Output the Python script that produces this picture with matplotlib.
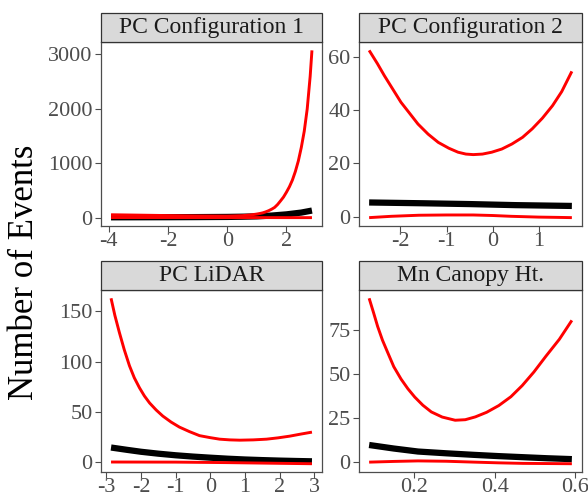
import matplotlib
matplotlib.use("Agg")
import matplotlib.pyplot as plt
from matplotlib.patches import Rectangle

plt.rcParams['font.family'] = ['Liberation Serif', 'DejaVu Serif']

titles = ["PC Configuration 1", "PC Configuration 2", "PC LiDAR", "Mn Canopy Ht."]

# Panel 1: PC Configuration 1
p1_x_up = [-3.92, -3.0, -2.0, -1.0, 0.0, 0.5, 0.8, 1.0, 1.1, 1.2, 1.3, 1.4, 1.5, 1.6, 1.7, 1.8, 1.9,
           2.0, 2.1, 2.2, 2.3, 2.4, 2.5, 2.6, 2.7, 2.8, 2.86]
p1_up = [55, 48, 40, 33, 30, 38, 52, 68, 78, 90, 108, 130, 157, 190, 243, 310, 380,
         470, 570, 692, 850, 1043, 1290, 1590, 2000, 2600, 3075]
p1_x_fit = [-3.92, -3.0, -2.0, -1.0, 0.0, 0.5, 1.0, 1.5, 2.0, 2.5, 2.86]
p1_fit = [8, 9, 10, 12, 15, 19, 25, 40, 62, 95, 132]
p1_x_lo = [-3.92, -2.0, 0.0, 1.0, 2.0, 2.86]
p1_lo = [4, 4, 3, 3, 2, 2]

# Panel 2: PC Configuration 2
p2_x_up = [-2.68, -2.5, -2.35, -2.17, -1.99, -1.8, -1.62, -1.4, -1.18, -0.95, -0.75, -0.58, -0.42,
           -0.22, -0.02, 0.2, 0.42, 0.65, 0.86, 1.08, 1.30, 1.5, 1.72]
p2_up = [62.5, 57.5, 53.0, 48.0, 43.0, 38.8, 34.8, 31.0, 27.9, 25.7, 24.2, 23.5, 23.3,
         23.5, 24.2, 25.4, 27.3, 29.8, 33.0, 37.0, 41.7, 47.0, 54.6]
p2_x_fit = [-2.68, -1.5, -0.5, 0.5, 1.72]
p2_fit = [5.3, 5.0, 4.7, 4.3, 4.0]
p2_x_lo = [-2.68, -2.2, -1.6, -1.0, -0.42, 0.0, 0.4, 1.0, 1.4, 1.72]
p2_lo = [-0.4, 0.1, 0.5, 0.6, 0.6, 0.4, 0.1, -0.2, -0.3, -0.4]

# Panel 3: PC LiDAR
p3_x_up = [-2.86, -2.75, -2.62, -2.48, -2.33, -2.19, -2.04, -1.9, -1.75, -1.56, -1.37, -1.13, -0.89,
           -0.6, -0.31, 0.0, 0.27, 0.56, 0.85, 1.24, 1.62, 1.95, 2.29, 2.6, 2.93]
p3_up = [163, 146, 129, 112, 96, 84, 74, 66, 59, 52, 46, 40, 35,
         30.5, 26.5, 24.5, 23.0, 22.3, 22.0, 22.3, 23.0, 24.3, 26.0, 28.0, 30.0]
p3_x_fit = [-2.86, -2.4, -2.0, -1.5, -1.0, -0.5, 0.0, 0.5, 1.0, 1.5, 2.0, 2.5, 2.93]
p3_fit = [14.7, 12.4, 10.5, 8.6, 7.0, 5.7, 4.6, 3.6, 2.8, 2.2, 1.7, 1.3, 1.0]
p3_x_lo = [-2.86, -1.0, 0.5, 2.0, 2.93]
p3_lo = [0.3, 0.2, -0.3, -1.0, -1.4]

# Panel 4: Mn Canopy Ht.
p4_x_up = [0.089, 0.10, 0.11, 0.122, 0.135, 0.15, 0.168, 0.185, 0.202, 0.222, 0.243, 0.27, 0.302,
           0.327, 0.352, 0.38, 0.41, 0.44, 0.468, 0.497, 0.527, 0.56, 0.591]
p4_up = [92.7, 84.5, 76.8, 69.0, 62.0, 54.0, 47.0, 41.5, 36.8, 32.2, 28.4, 25.5, 23.7,
         24.0, 25.6, 28.2, 32.0, 37.0, 43.3, 51.0, 60.0, 69.5, 80.2]
p4_x_fit = [0.089, 0.15, 0.21, 0.28, 0.35, 0.41, 0.47, 0.53, 0.591]
p4_fit = [9.7, 7.7, 6.0, 5.0, 4.1, 3.4, 2.8, 2.2, 1.7]
p4_x_lo = [0.089, 0.15, 0.21, 0.28, 0.35, 0.41, 0.47, 0.53, 0.591]
p4_lo = [0.0, 0.4, 0.7, 0.5, 0.0, -0.4, -0.7, -0.8, -0.9]

panels = [
    (p1_x_up, p1_up, p1_x_fit, p1_fit, p1_x_lo, p1_lo, [-4, -2, 0, 2], [0, 1000, 2000, 3000], ["-4", "-2", "0", "2"], ["0", "1000", "2000", "3000"]),
    (p2_x_up, p2_up, p2_x_fit, p2_fit, p2_x_lo, p2_lo, [-2, -1, 0, 1], [0, 20, 40, 60], ["-2", "-1", "0", "1"], ["0", "20", "40", "60"]),
    (p3_x_up, p3_up, p3_x_fit, p3_fit, p3_x_lo, p3_lo, [-3, -2, -1, 0, 1, 2, 3], [0, 50, 100, 150], ["-3", "-2", "-1", "0", "1", "2", "3"], ["0", "50", "100", "150"]),
    (p4_x_up, p4_up, p4_x_fit, p4_fit, p4_x_lo, p4_lo, [0.2, 0.4, 0.6], [0, 25, 50, 75], ["0.2", "0.4", "0.6"], ["0", "25", "50", "75"]),
]

W, H = 588, 498
fig = plt.figure(figsize=(W / 100, H / 100), dpi=100)

boxes = [(101, 322, 42, 226), (359, 582, 42, 226), (101, 322, 290, 472), (359, 582, 290, 472)]
strip_h = 29

for i, (box, pan) in enumerate(zip(boxes, panels)):
    l, r, t, b = box
    ax = fig.add_axes([l / W, (H - b) / H, (r - l) / W, (b - t) / H])
    xu, yu, xf, yf, xl, yl, xt, yt, xtl, ytl = pan
    ax.plot(xu, yu, color='#FF0000', lw=2.1, solid_capstyle='butt', solid_joinstyle='round', zorder=3)
    ax.plot(xf, yf, color='black', lw=4.5, solid_capstyle='butt', solid_joinstyle='round', zorder=2)
    ax.plot(xl, yl, color='#FF0000', lw=2.1, solid_capstyle='butt', solid_joinstyle='round', zorder=3)
    ax.margins(x=0.05, y=0.05)
    ax.set_xticks(xt)
    ax.set_xticklabels(xtl)
    ax.set_yticks(yt)
    ax.set_yticklabels(ytl)
    ax.tick_params(axis='both', colors='#4D4D4D', labelsize=16, length=4, width=0.8, pad=2)
    ax.tick_params(axis='x', pad=0.5)
    for sp in ax.spines.values():
        sp.set_color('#4D4D4D')
        sp.set_linewidth(0.9)
    sh = strip_h / (b - t)
    rect = Rectangle((0, 1), 1, sh, transform=ax.transAxes, facecolor='#D9D9D9',
                     edgecolor='#333333', lw=0.9, clip_on=False, zorder=5)
    ax.add_patch(rect)
    ax.text(0.5, 1 + sh / 2, titles[i], transform=ax.transAxes, ha='center', va='center',
            fontsize=17, color='#1A1A1A', zorder=6)

fig.text(25 / W, (H - 272) / H, "Number of Events", rotation=90, ha='center', va='center',
         fontsize=25, color='black')

fig.savefig("out.png", dpi=100)
